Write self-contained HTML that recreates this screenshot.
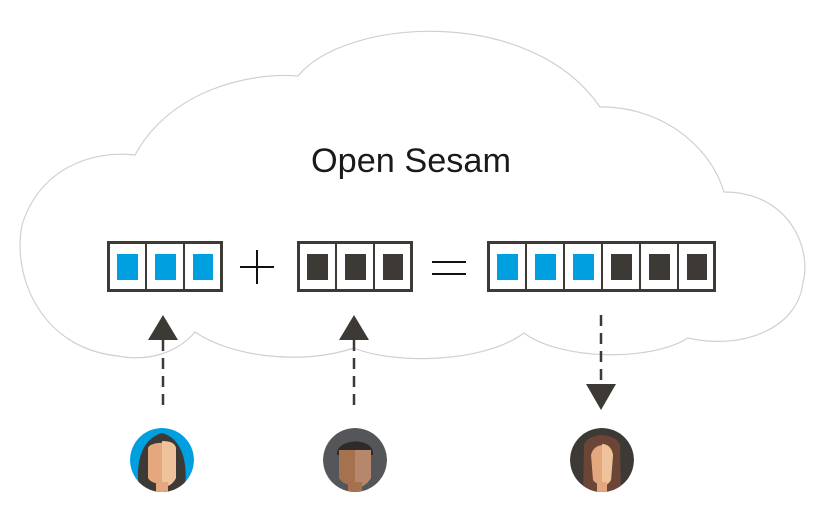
<!DOCTYPE html>
<html><head><meta charset="utf-8"><style>
html,body{margin:0;padding:0;background:#fff;width:819px;height:511px;overflow:hidden}
</style></head><body>
<svg width="819" height="511" viewBox="0 0 819 511" xmlns="http://www.w3.org/2000/svg">
<path d="M135,155 C170,90 250,72 298,76 C345,18 530,5 600,107 C655,106 708,140 724,192 C790,192 812,250 803,282 C798,330 740,350 688,338 C650,362 560,360 524,333 C482,364 392,364 354,348 C300,366 230,356 195,332 C178,352 150,362 118,356 C40,348 12,275 22,225 C40,168 92,150 135,155 Z" fill="#fff" stroke="#d0d0d0" stroke-width="1.2"/>
<text x="411" y="172" text-anchor="middle" font-family="Liberation Sans, sans-serif" font-size="34" fill="#1a1a1a" textLength="200" lengthAdjust="spacingAndGlyphs" style="font-weight:100">Open Sesam</text>
<g stroke="#3d3935" stroke-width="3" fill="#fff">
<rect x="108.5" y="242.5" width="113" height="48"/>
<rect x="298.5" y="242.5" width="113" height="48"/>
<rect x="488.5" y="242.5" width="226" height="48"/>
</g>
<g stroke="#3d3935" stroke-width="2">
<line x1="146" y1="242" x2="146" y2="291"/><line x1="184" y1="242" x2="184" y2="291"/>
<line x1="336" y1="242" x2="336" y2="291"/><line x1="374" y1="242" x2="374" y2="291"/>
<line x1="526" y1="242" x2="526" y2="291"/><line x1="564" y1="242" x2="564" y2="291"/><line x1="602" y1="242" x2="602" y2="291"/><line x1="640" y1="242" x2="640" y2="291"/><line x1="678" y1="242" x2="678" y2="291"/>
</g>
<g fill="#009fe0">
<rect x="117" y="254" width="21" height="26"/><rect x="155" y="254" width="21" height="26"/><rect x="193" y="254" width="20" height="26"/>
<rect x="497" y="254" width="21" height="26"/><rect x="535" y="254" width="21" height="26"/><rect x="573" y="254" width="21" height="26"/>
</g>
<g fill="#3d3935">
<rect x="307" y="254" width="21" height="26"/><rect x="345" y="254" width="21" height="26"/><rect x="383" y="254" width="20" height="26"/>
<rect x="611" y="254" width="21" height="26"/><rect x="649" y="254" width="21" height="26"/><rect x="687" y="254" width="20" height="26"/>
</g>
<g stroke="#111" stroke-width="2">
<line x1="240" y1="267" x2="274" y2="267"/><line x1="257" y1="250" x2="257" y2="284"/>
<line x1="432" y1="262" x2="466" y2="262"/><line x1="432" y1="274" x2="466" y2="274"/>
</g>
<g stroke="#3d3935" stroke-width="2.5" stroke-dasharray="11,7">
<line x1="163" y1="340" x2="163" y2="410"/>
<line x1="354" y1="340" x2="354" y2="410"/>
<line x1="601" y1="315" x2="601" y2="382"/>
</g>
<g fill="#3d3935">
<polygon points="163,315 148,340 178,340"/>
<polygon points="354,315 339,340 369,340"/>
<polygon points="586,384 616,384 601,410"/>
</g>
<defs>
<clipPath id="c1"><circle cx="162" cy="460" r="32"/></clipPath>
<clipPath id="c2"><circle cx="355" cy="460" r="32"/></clipPath>
<clipPath id="c3"><circle cx="602" cy="460" r="32"/></clipPath>
</defs>
<g clip-path="url(#c1)">
<circle cx="162" cy="460" r="32" fill="#009fe0"/>
<path d="M140,495 C135,470 138,440 162,433 C186,440 188,470 184,495 Z" fill="#3d3935"/>
<path d="M148,448 C150,441 174,441 176,448 L176,478 C172,486 152,486 148,478 Z" fill="#e4a77e"/>
<path d="M162,441 C170,441 175,443 176,448 L176,478 C172,486 166,487 162,487 Z" fill="#eec39b"/>
<rect x="156" y="482" width="12" height="12" fill="#e4a77e"/>
</g>
<g clip-path="url(#c2)">
<circle cx="355" cy="460" r="32" fill="#54565a"/>
<path d="M337,455 C335,438 375,436 373,455 Z" fill="#2f2b28"/>
<path d="M339,450 L371,450 L371,478 C366,488 344,488 339,478 Z" fill="#a5714f"/>
<path d="M355,450 L371,450 L371,478 C366,486 360,488 355,488 Z" fill="#b6876a"/>
<rect x="348" y="482" width="14" height="12" fill="#a5714f"/>
</g>
<g clip-path="url(#c3)">
<circle cx="602" cy="460" r="32" fill="#3d3935"/>
<path d="M583,495 L584,445 C588,432 616,432 620,445 L621,495 Z" fill="#6b4536"/>
<path d="M591,455 C594,442 610,442 613,455 L611,480 C607,486 597,486 593,480 Z" fill="#e4a77e"/>
<path d="M602,444 C608,444 612,448 613,455 L611,480 C608,485 605,486 602,486 Z" fill="#eec39b"/>
<rect x="597" y="482" width="10" height="12" fill="#e4a77e"/>
</g>
</svg>
</body></html>
